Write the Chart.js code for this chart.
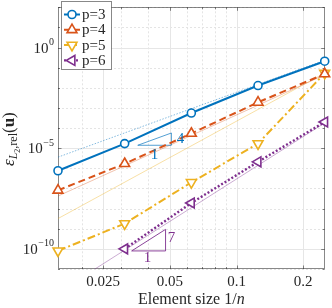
<!DOCTYPE html>
<html>
<head>
<meta charset="utf-8">
<script src="https://cdn.jsdelivr.net/npm/chart.js@4/dist/chart.umd.min.js"></script>
<style>
  html, body { margin: 0; padding: 0; background: #fff; }
  #wrap { width: 332px; height: 308px; }
</style>
</head>
<body>
<div id="wrap"><canvas id="chart"></canvas></div>
<script>
'use strict';

// ─── Data ────────────────────────────────────────────────────────────────────

const H = [1 / 64, 1 / 32, 1 / 16, 1 / 8, 1 / 4];   // element size 1/n

const ERR_P3 = [7.6e-7, 1.7e-5, 5.6e-4, 1.3e-2, 0.21];
const ERR_P4 = [8.1e-8, 1.7e-6, 5.4e-5, 1.9e-3, 0.049];
const ERR_P5 = [8.0e-11, 1.8e-9, 2.0e-7, 1.7e-5, 0.053];
const ERR_P6 = [null, 1.0e-10, 1.9e-8, 2.1e-6, 2.0e-4];

// thin reference lines, values at H[0] and H[4]
const REF_H  = [1 / 64, 1 / 4];
const REF_P3 = [3.6e-6, 0.236];
const REF_P4 = [4.2e-8, 0.044];
const REF_P5 = [3.2e-9, 0.054];
const REF_P6 = [6.8e-13, 1.8e-4];

// slope triangles (closed outline)
const TRI4_X = [0.0358, 0.0508, 0.0508, 0.0358];
const TRI4_Y = [1.4e-5, 1.4e-5, 5.7e-5, 1.4e-5];
const TRI7_X = [0.0336, 0.0478, 0.0478, 0.0336];
const TRI7_Y = [7.9e-11, 7.9e-11, 9.3e-10, 7.9e-11];

const TRI_LABEL_TEXT = ['4', '1', '7', '1'];
const TRI_LABEL_X    = [0.0558, 0.0426, 0.0508, 0.0396];
const TRI_LABEL_Y    = [3.0e-5, 4.6e-6, 3.4e-10, 3.3e-11];

const SERIES_LABELS = ['p=3', 'p=4', 'p=5', 'p=6'];

const X_TICKS       = [0.025, 0.05, 0.1, 0.2];
const X_TICK_LABELS = ['0.025', '0.05', '0.1', '0.2'];
const X_MINOR       = [0.02, 0.03, 0.04, 0.06, 0.07, 0.08, 0.09];

const Y_TICKS     = [1e-10, 1e-5, 1e0];
const Y_TICK_EXP  = ['\u221210', '\u22125', '0'];
const Y_MINOR     = [1e-11, 1e-9, 1e-8, 1e-7, 1e-6, 1e-4, 1e-3, 1e-2, 1e-1, 1e1, 1e2];

// ─── Style ───────────────────────────────────────────────────────────────────

const BLUE   = '#0072BD';
const ORANGE = '#D95319';
const YELLOW = '#EDB120';
const PURPLE = '#7E2F8E';
const SERIF  = '"Liberation Serif", "DejaVu Serif", serif';
const INK    = '#262626';

const pts = (xs, ys) => xs.map((x, i) => ({ x: x, y: ys[i] })).filter(p => p.y !== null);

function series(ys, color, dash, style, rot, r, lw) {
  return {
    data: pts(H, ys),
    borderColor: color,
    borderWidth: lw,
    borderDash: dash,
    pointStyle: style,
    rotation: rot,
    pointRadius: r,
    pointBorderWidth: 1.6,
    pointBorderColor: color,
    pointBackgroundColor: '#fff',
    tension: 0,
    clip: false,
  };
}

function refLine(ys, color, dash) {
  return {
    data: pts(REF_H, ys),
    borderColor: color,
    borderWidth: 0.8,
    borderDash: dash,
    pointRadius: 0,
    tension: 0,
  };
}

function triangle(xs, ys, color) {
  return {
    data: pts(xs, ys),
    borderColor: color,
    borderWidth: 0.9,
    pointRadius: 0,
    tension: 0,
  };
}

const datasets = [
  series(ERR_P3, BLUE,   [],            'circle',   0,   4,   2),
  series(ERR_P4, ORANGE, [7, 4],        'triangle', 0,   5.7, 2),
  series(ERR_P5, YELLOW, [8, 3, 2, 3],  'triangle', 180, 5.7, 2),
  series(ERR_P6, PURPLE, [2, 2],        'triangle', 270, 5.7, 2.4),
  triangle(TRI4_X, TRI4_Y, 'rgba(0,114,189,0.75)'),
  triangle(TRI7_X, TRI7_Y, PURPLE),
  refLine(REF_P3, 'rgba(0,114,189,0.6)',  [1.5, 1.5]),
  refLine(REF_P4, 'rgba(217,83,25,0.45)', []),
  refLine(REF_P5, 'rgba(237,177,32,0.5)', []),
  refLine(REF_P6, 'rgba(126,47,142,0.5)', []),
];

// ─── Plugin: MATLAB-like axes, grid, labels, legend ─────────────────────────

function hline(ctx, x0, x1, y) { ctx.beginPath(); ctx.moveTo(x0, y); ctx.lineTo(x1, y); ctx.stroke(); }
function vline(ctx, x, y0, y1) { ctx.beginPath(); ctx.moveTo(x, y0); ctx.lineTo(x, y1); ctx.stroke(); }

const matlabAxes = {
  id: 'matlabAxes',

  beforeDatasetsDraw(chart) {
    const { ctx, chartArea: a, scales: { x, y } } = chart;
    const px = v => Math.round(x.getPixelForValue(v)) + 0.5;
    const py = v => Math.round(y.getPixelForValue(v)) + 0.5;
    ctx.save();
    ctx.lineWidth = 1;

    // minor grid
    ctx.strokeStyle = '#e4e4e4';
    ctx.setLineDash([2, 2]);
    X_MINOR.forEach(v => vline(ctx, px(v), a.top, a.bottom));
    Y_MINOR.forEach(v => hline(ctx, a.left, a.right, py(v)));

    // major grid
    ctx.setLineDash([]);
    ctx.strokeStyle = '#e6e6e6';
    X_TICKS.forEach(v => vline(ctx, px(v), a.top, a.bottom));
    Y_TICKS.forEach(v => hline(ctx, a.left, a.right, py(v)));

    // box
    ctx.strokeStyle = 'rgba(38,38,38,0.55)';
    ctx.strokeRect(Math.round(a.left) + 0.5, Math.round(a.top) + 0.5,
                   Math.round(a.right - a.left) - 1, Math.round(a.bottom - a.top) - 1);

    // tick marks, inward on all four sides
    const L = a.left, R = a.right, T = a.top, B = a.bottom;
    X_TICKS.forEach(v => { vline(ctx, px(v), B, B - 3.5); vline(ctx, px(v), T, T + 3.5); });
    X_MINOR.forEach(v => { vline(ctx, px(v), B, B - 2);   vline(ctx, px(v), T, T + 2); });
    Y_TICKS.forEach(v => { hline(ctx, L, L + 3.5, py(v)); hline(ctx, R, R - 3.5, py(v)); });
    Y_MINOR.forEach(v => { hline(ctx, L, L + 2, py(v));   hline(ctx, R, R - 2, py(v)); });

    // y tick labels 10^k
    ctx.fillStyle = INK;
    ctx.textBaseline = 'alphabetic';
    y.ticks.forEach((t, i) => {
      const yy = y.getPixelForValue(t.value);
      ctx.font = `10px ${SERIF}`;
      const wSup = ctx.measureText(Y_TICK_EXP[i]).width;
      ctx.font = `15px ${SERIF}`;
      const wBase = ctx.measureText('10').width;
      const x0 = 53.5 - wSup - wBase;
      ctx.textAlign = 'left';
      ctx.fillText('10', x0, yy + 5);
      ctx.font = `10px ${SERIF}`;
      ctx.fillText(Y_TICK_EXP[i], x0 + wBase + 0.5, yy - 2.5);
    });

    // x title
    ctx.font = `16px ${SERIF}`;
    const t1 = 'Element size 1/';
    const w1 = ctx.measureText(t1).width;
    ctx.font = `italic 16px ${SERIF}`;
    const w2 = ctx.measureText('n').width;
    const xc = (a.left + a.right) / 2;
    const xs = xc - (w1 + w2) / 2;
    ctx.font = `16px ${SERIF}`;
    ctx.fillText(t1, xs, 303.5);
    ctx.font = `italic 16px ${SERIF}`;
    ctx.fillText('n', xs + w1, 303.5);

    // y title (rotated)
    const parts = [
      { t: '\u03b5',  f: `italic 17px ${SERIF}`, dy: 0 },
      { t: 'L',       f: `italic 12px ${SERIF}`, dy: 3.5 },
      { t: '2',       f: `8px ${SERIF}`,         dy: 6 },
      { t: ',rel',    f: `12px ${SERIF}`,        dy: 3.5 },
      { t: '(',       f: `17px ${SERIF}`,        dy: 0 },
      { t: 'u',       f: `bold 17px ${SERIF}`,   dy: 0 },
      { t: ')',       f: `17px ${SERIF}`,        dy: 0 },
    ];
    let total = 0;
    parts.forEach(p => { ctx.font = p.f; p.w = ctx.measureText(p.t).width; total += p.w; });
    ctx.save();
    ctx.translate(13.5, (a.top + a.bottom) / 2 + 1);
    ctx.rotate(-Math.PI / 2);
    let cx = -total / 2;
    parts.forEach(p => { ctx.font = p.f; ctx.fillText(p.t, cx, p.dy); cx += p.w; });
    ctx.restore();

    ctx.restore();
  },

  afterDatasetsDraw(chart) {
    const { ctx, scales: { x, y } } = chart;
    ctx.save();

    // slope labels
    ctx.font = `15px ${SERIF}`;
    ctx.textAlign = 'center';
    ctx.textBaseline = 'middle';
    TRI_LABEL_TEXT.forEach((t, i) => {
      ctx.fillStyle = i < 2 ? BLUE : PURPLE;
      ctx.fillText(t, x.getPixelForValue(TRI_LABEL_X[i]), y.getPixelForValue(TRI_LABEL_Y[i]));
    });

    // legend
    const bx = 61.5, by = 1.5, bw = 50, bh = 68;
    ctx.fillStyle = '#fff';
    ctx.fillRect(bx, by, bw, bh);
    ctx.strokeStyle = 'rgba(38,38,38,0.55)';
    ctx.lineWidth = 1;
    ctx.strokeRect(bx, by, bw, bh);
    SERIES_LABELS.forEach((label, i) => {
      const ds = chart.data.datasets[i];
      const ry = 14.5 + i * 15.3;
      ctx.strokeStyle = ds.borderColor;
      ctx.lineWidth = ds.borderWidth;
      ctx.setLineDash(ds.borderDash);
      hline(ctx, 64, 80, ry);
      ctx.setLineDash([]);
      ctx.fillStyle = '#fff';
      ctx.lineWidth = ds.pointBorderWidth;
      Chart.helpers.drawPoint(ctx, {
        pointStyle: ds.pointStyle, rotation: ds.rotation,
        radius: ds.pointRadius, borderWidth: ds.pointBorderWidth,
      }, 72, ry);
      ctx.fillStyle = INK;
      ctx.font = `15px ${SERIF}`;
      ctx.textAlign = 'left';
      ctx.textBaseline = 'middle';
      ctx.fillText(label, 82, ry + 0.5);
    });

    ctx.restore();
  },
};

// ─── Chart ───────────────────────────────────────────────────────────────────

new Chart(document.getElementById('chart'), {
  type: 'line',
  data: { datasets: datasets },
  plugins: [matlabAxes],
  options: {
    responsive: true,
    maintainAspectRatio: false,
    animation: false,
    layout: { padding: { top: 1, right: 4, left: 0, bottom: 0 } },
    plugins: { legend: { display: false }, tooltip: { enabled: false } },
    scales: {
      x: {
        type: 'logarithmic',
        min: 1 / 64,
        max: 1 / 4,
        grid: { display: false, drawTicks: false },
        border: { display: false },
        ticks: {
          autoSkip: false,
          maxRotation: 0,
          padding: 4,
          color: INK,
          font: { family: SERIF, size: 15 },
          callback: v => X_TICK_LABELS[X_TICKS.indexOf(v)],
        },
        afterBuildTicks: s => { s.ticks = X_TICKS.map(v => ({ value: v })); },
        afterFit: s => { s.height = 39; },
      },
      y: {
        type: 'logarithmic',
        min: 1e-11,
        max: 1e2,
        grid: { display: false, drawTicks: false },
        border: { display: false },
        ticks: { display: false },
        afterBuildTicks: s => { s.ticks = Y_TICKS.map(v => ({ value: v })); },
        afterFit: s => { s.width = 58; },
      },
    },
  },
});
</script>
</body>
</html>
